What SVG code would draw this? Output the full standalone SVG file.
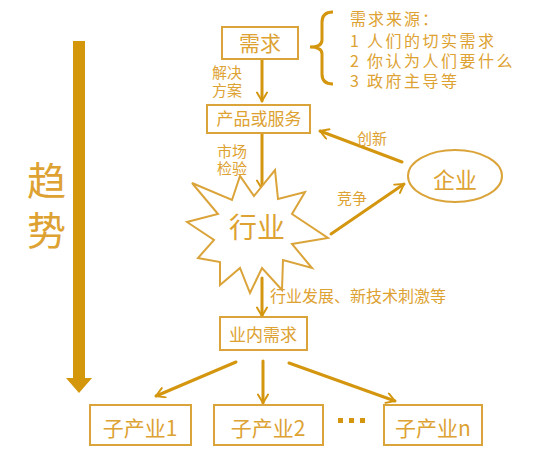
<svg xmlns="http://www.w3.org/2000/svg" width="550" height="462" viewBox="0 0 550 462">
<defs>
<style>
.t{font-family:"Noto Sans CJK SC","Liberation Sans",sans-serif;fill:#DDA232}
.box{fill:#fff;stroke:#DBA43A;stroke-width:2}
.ln{fill:none;stroke:#D4960F;stroke-width:3;stroke-linecap:round}
</style>
<marker id="ah" viewBox="0 0 10 10" refX="8" refY="5" markerWidth="4" markerHeight="4" orient="auto" markerUnits="strokeWidth">
<polyline points="1,0.8 8,5 1,9.2" fill="none" stroke="#D4960F" stroke-width="1.6" stroke-linecap="round" stroke-linejoin="round"/>
</marker>
</defs>
<rect width="550" height="462" fill="#fff"/>

<g id="trend">
<polygon points="73,41 85,41 85,378 92,378 79,393 66,378 73,378" fill="#D4960A"/>
<text class="t" font-size="39"><tspan x="27" y="195">趋</tspan><tspan x="27" y="245">势</tspan></text>
</g>

<g id="connectors">
<line class="ln" x1="262" y1="60" x2="262" y2="101" marker-end="url(#ah)"/>
<line class="ln" x1="262" y1="134" x2="262" y2="189" marker-end="url(#ah)"/>
<line class="ln" x1="402" y1="162" x2="320" y2="131" marker-end="url(#ah)"/>
<line class="ln" x1="331" y1="234" x2="404" y2="184" marker-end="url(#ah)"/>
<line class="ln" x1="262" y1="278" x2="262" y2="316" marker-end="url(#ah)"/>
<line class="ln" x1="236" y1="362" x2="156" y2="396" marker-end="url(#ah)"/>
<line class="ln" x1="263" y1="361" x2="263" y2="403" marker-end="url(#ah)"/>
<line class="ln" x1="289" y1="363" x2="395" y2="401" marker-end="url(#ah)"/>
<text class="t" font-size="15"><tspan x="212" y="78">解决</tspan><tspan x="212" y="96">方案</tspan></text>
<text class="t" font-size="15"><tspan x="217" y="157">市场</tspan><tspan x="217" y="174">检验</tspan></text>
<text class="t" x="357" y="144" font-size="15">创新</text>
<text class="t" x="337" y="204" font-size="15">竞争</text>
<text class="t" x="270" y="302" font-size="16">行业发展、新技术刺激等</text>
</g>

<g id="demand">
<rect class="box" x="222" y="27" width="76" height="32"/>
<text class="t" x="260" y="51" font-size="21" text-anchor="middle">需求</text>
</g>

<g id="sources">
<path d="M333,12 Q322,12 322,22 L322,40 Q322,47 310,47 Q322,47 322,54 L322,74 Q322,84 333,84" fill="none" stroke="#D4960F" stroke-width="3"/>
<text class="t" font-size="16" letter-spacing="2.5"><tspan x="350" y="25" letter-spacing="2">需求来源：</tspan><tspan x="350" y="47">1</tspan><tspan x="367" y="47">人们的切实需求</tspan><tspan x="350" y="67">2</tspan><tspan x="367" y="67">你认为人们要什么</tspan><tspan x="350" y="87">3</tspan><tspan x="367" y="87">政府主导等</tspan></text>
</g>

<g id="product">
<rect class="box" x="207" y="105" width="103" height="28"/>
<text class="t" x="259" y="125" font-size="17" text-anchor="middle">产品或服务</text>
</g>

<g id="enterprise">
<ellipse cx="455" cy="176" rx="47" ry="26" fill="#fff" stroke="#DBA43A" stroke-width="2"/>
<text class="t" x="455" y="188" font-size="22" text-anchor="middle">企业</text>
</g>

<g id="industry">
<polygon points="192,183 232,200 240,176 254,196 275,170 278,199 305,192 292,214 328,238 292,244 312,268 283,260 282,290 262,268 250,293 240,268 220,285 220,262 198,258 214,240 187,222 218,214" fill="#fff" stroke="#DBA43A" stroke-width="2" stroke-linejoin="miter"/>
<text class="t" x="257" y="238" font-size="28" text-anchor="middle">行业</text>
</g>

<g id="inner-demand">
<rect class="box" x="220" y="317" width="87" height="33"/>
<text class="t" x="263" y="341" font-size="17" text-anchor="middle">业内需求</text>
</g>

<g id="sub1">
<rect class="box" x="90" y="405" width="101" height="40"/>
<text class="t" x="140" y="436" font-size="21" text-anchor="middle">子产业1</text>
</g>
<g id="sub2">
<rect class="box" x="214" y="405" width="109" height="40"/>
<text class="t" x="268" y="436" font-size="21" text-anchor="middle">子产业2</text>
</g>
<g id="dots">
<rect x="338" y="418" width="5" height="5" fill="#D4960F"/>
<rect x="349" y="418" width="5" height="5" fill="#D4960F"/>
<rect x="360" y="418" width="5" height="5" fill="#D4960F"/>
</g>
<g id="subn">
<rect class="box" x="384" y="405" width="98" height="40"/>
<text class="t" x="433" y="436" font-size="21" text-anchor="middle">子产业n</text>
</g>
</svg>
